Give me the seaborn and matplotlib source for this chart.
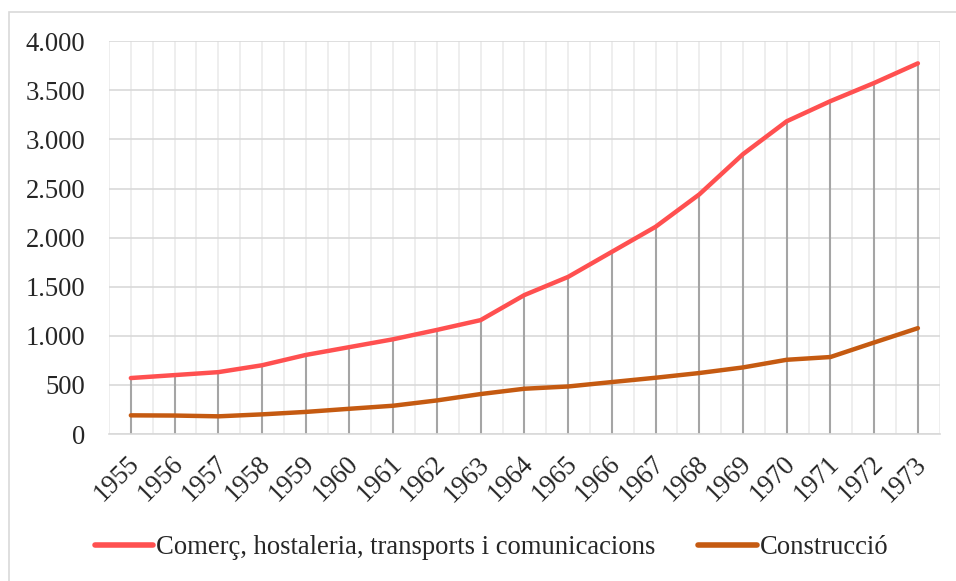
import numpy as np
import pandas as pd
import matplotlib
matplotlib.use("Agg")
import matplotlib.pyplot as plt
import matplotlib.transforms as mtransforms
import seaborn as sns
from matplotlib.ticker import FuncFormatter, MultipleLocator

# =====================================================
# DATA
# =====================================================

years = list(range(1955, 1974))

comerc = [570, 600, 630, 700, 805, 885, 965, 1060, 1160, 1415,
          1600, 1855, 2110, 2440, 2850, 3185, 3390, 3575, 3775]

construccio = [190, 188, 180, 200, 225, 257, 288, 342, 407, 461,
               484, 529, 573, 621, 678, 756, 784, 932, 1078]

label_comerc = "Comerç, hostaleria, transports i comunicacions"
label_constr = "Construcció"

df = pd.DataFrame({
    "Any": years * 2,
    "Valor": comerc + construccio,
    "Sector": [label_comerc] * len(years) + [label_constr] * len(years)
})

# =====================================================
# STYLE
# =====================================================

sns.set_style("white")
plt.rcParams["font.family"] = ["Liberation Serif", "DejaVu Serif"]

FS = 19.2

fig = plt.figure(figsize=(9.56, 5.81), dpi=100)
ax = fig.add_axes([0.114, 0.253, 0.869, 0.676])

# drop lines (from the highest series down to the axis)
tops = np.maximum(comerc, construccio)
ax.vlines(years, 0, tops, color="#A5A5A5", lw=1.5, zorder=2)

sns.lineplot(
    data=df,
    x="Any",
    y="Valor",
    hue="Sector",
    palette=["#FF5050", "#C55A11"],
    linewidth=3.2,
    ax=ax,
    legend=False,
    zorder=3
)

# =====================================================
# AXES
# =====================================================

ax.set_xlim(1954.5, 1973.5)
ax.set_ylim(0, 4000)

ax.yaxis.set_major_locator(MultipleLocator(500))
ax.yaxis.set_major_formatter(
    FuncFormatter(lambda v, p: f"{int(v):,}".replace(",", "."))
)

ax.set_xticks(years)
ax.set_xticks(np.arange(1954.5, 1974.0, 1.0), minor=True)

ax.set_xticklabels(
    [str(y) for y in years],
    rotation=45,
    ha="right",
    va="center",
    rotation_mode="anchor"
)

ax.tick_params(axis="x", which="both", length=0, pad=19, labelsize=FS)
ax.tick_params(axis="y", length=0, pad=17, labelsize=FS)

# nudge the rotated year labels a little to the right
shift = mtransforms.ScaledTranslation(5 / 100, 0, fig.dpi_scale_trans)
for lab in ax.get_xticklabels():
    lab.set_transform(lab.get_transform() + shift)

ax.grid(axis="y", which="major", color="#D9D9D9", lw=1.2, zorder=0)
ax.grid(axis="x", which="both", color="#EBEBEB", lw=1.2, zorder=0)

for side in ["top", "left", "right"]:
    ax.spines[side].set_visible(False)
ax.spines["bottom"].set_color("#D9D9D9")
ax.spines["bottom"].set_linewidth(1.2)

ax.set_xlabel("")
ax.set_ylabel("")

# =====================================================
# LEGEND
# =====================================================

handles = [
    plt.Line2D([], [], color="#FF5050", lw=4),
    plt.Line2D([], [], color="#C55A11", lw=4)
]

fig.legend(
    handles,
    [label_comerc, label_constr],
    loc="center",
    bbox_to_anchor=(0.514, 0.057),
    ncol=2,
    frameon=False,
    fontsize=FS,
    handlelength=2.2,
    handletextpad=0.1,
    columnspacing=1.6
)

# chart area border
fig.patches.append(
    plt.Rectangle(
        (9 / 956, -0.05), 1.2, 1 - 12 / 581 + 0.05,
        transform=fig.transFigure,
        fill=False,
        edgecolor="#D9D9D9",
        lw=1.2
    )
)

fig.savefig("out.png", dpi=100)
